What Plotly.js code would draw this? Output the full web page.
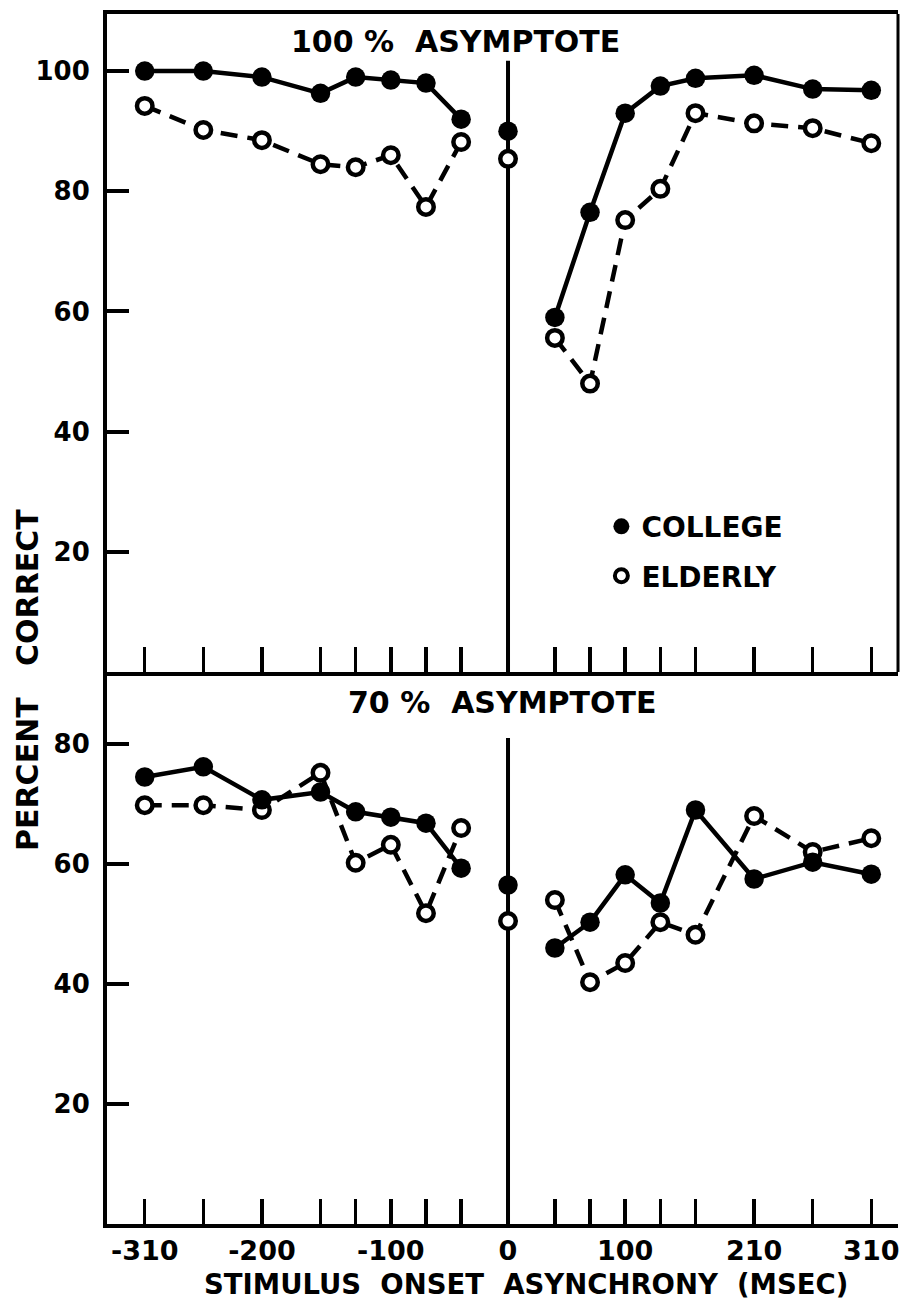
<!DOCTYPE html>
<html>
<head>
<meta charset="utf-8">
<script src="https://cdn.plot.ly/plotly-3.0.1.min.js"></script>
<style>html,body{margin:0;padding:0;background:#fff;}#chart{width:902px;height:1299px;}</style>
</head>
<body>
<div id="chart"></div>
<script>
// Stimulus onset asynchrony (msec)
const SOA = [-310, -260, -210, -160, -130, -100, -70, -40, 0, 40, 70, 100, 130, 160, 210, 260, 310];
// Tick labels shown under the bottom axis (one per SOA tick, blank = unlabelled)
const TICK_TEXT = ["-310", "", "-200", "", "", "-100", "", "", "0", "", "", "100", "", "", "210", "", "310"];
// 100% asymptote panel
const TOP_COLLEGE = [100, 100, 99, 96.3, 99, 98.5, 98, 92, 90, 59, 76.5, 93, 97.5, 98.8, 99.3, 97, 96.8];
const TOP_ELDERLY = [94.2, 90.2, 88.5, 84.5, 84, 86, 77.4, 88.2, 85.4, 55.6, 48, 75.2, 80.4, 93, 91.3, 90.5, 88];
// 70% asymptote panel
const BOT_COLLEGE = [74.5, 76.2, 70.7, 72, 68.7, 67.8, 66.8, 59.3, 56.5, 46, 50.3, 58.2, 53.5, 69, 57.5, 60.3, 58.3];
const BOT_ELDERLY = [69.8, 69.8, 69, 75.2, 60.2, 63.2, 51.8, 66, 50.5, 54, 40.3, 43.5, 50.3, 48.2, 68, 62, 64.3];
const Y_TICKS_TOP = [20, 40, 60, 80, 100];
const Y_TICKS_BOT = [20, 40, 60, 80];

// split into left segment, isolated zero point, right segment
function segmented(xs, ys) {
  const X = [], Y = [];
  for (let i = 0; i < xs.length; i++) {
    if (i > 0 && (Math.sign(xs[i]) !== Math.sign(xs[i - 1]))) { X.push(null); Y.push(null); }
    X.push(xs[i]); Y.push(ys[i]);
  }
  return {x: X, y: Y};
}

const BOLD = {family: "DejaVu Sans", weight: 700, color: "#000"};
const openMarker = {symbol: "circle", size: 15.5, color: "#fff", line: {color: "#000", width: 4.5}};
const fillMarker = {symbol: "circle", size: 19.5, color: "#000", line: {color: "#000", width: 0}};

function trace(ys, xa, ya, group) {
  const s = segmented(SOA, ys);
  const elderly = group === "elderly";
  return {
    type: "scatter", mode: "lines+markers", x: s.x, y: s.y, xaxis: xa, yaxis: ya,
    connectgaps: false, showlegend: false, hoverinfo: "skip",
    line: {color: "#000", width: 4.5, dash: elderly ? "17px,10px" : "solid"},
    marker: elderly ? openMarker : fillMarker
  };
}

const data = [
  trace(TOP_ELDERLY, "x", "y", "elderly"),
  trace(TOP_COLLEGE, "x", "y", "college"),
  trace(BOT_ELDERLY, "x2", "y2", "elderly"),
  trace(BOT_COLLEGE, "x2", "y2", "college"),
  {type: "scatter", mode: "markers", x: [null], y: [null], name: "COLLEGE", legendgroup: "a",
   marker: {symbol: "circle", size: 16, color: "#000"}},
  {type: "scatter", mode: "markers", x: [null], y: [null], name: "ELDERLY", legendgroup: "b",
   marker: {symbol: "circle", size: 13, color: "#fff", line: {color: "#000", width: 4}}}
];

const XR = [-342.2, 332.8];
const xCommon = {
  range: XR, showgrid: false, zeroline: false, showline: true, linecolor: "#000", linewidth: 4,
  ticks: "inside", ticklen: 25, tickwidth: 3.5, tickcolor: "#000",
  tickmode: "array", tickvals: SOA, ticktext: TICK_TEXT, fixedrange: true
};
const yCommon = {
  showgrid: false, zeroline: false, showline: true, linecolor: "#000", linewidth: 4,
  ticks: "inside", ticklen: 22, tickwidth: 4, tickcolor: "#000", tickmode: "array",
  tickfont: Object.assign({size: 26}, BOLD), ticklabelstandoff: 8, fixedrange: true
};

const layout = {
  width: 902, height: 1299,
  margin: {l: 107, r: 4, t: 14, b: 75},
  paper_bgcolor: "#fff", plot_bgcolor: "#fff",
  showlegend: true,
  legend: {x: 0.625, y: 0.597, xanchor: "left", yanchor: "top", font: Object.assign({size: 28}, BOLD),
           bgcolor: "rgba(0,0,0,0)", tracegroupgap: 10, itemwidth: 30},
  xaxis: Object.assign({}, xCommon, {anchor: "y", mirror: true, showticklabels: false}),
  yaxis: Object.assign({}, yCommon, {domain: [0.4562, 1], range: [0, 109.5], tickvals: Y_TICKS_TOP, anchor: "x"}),
  xaxis2: Object.assign({}, xCommon, {anchor: "y2", showticklabels: true,
           tickfont: Object.assign({size: 27}, BOLD), ticklabelstandoff: 0}),
  yaxis2: Object.assign({}, yCommon, {domain: [0, 0.4562], range: [0, 92], tickvals: Y_TICKS_BOT, anchor: "x2"}),
  shapes: [
    {type: "line", xref: "x", yref: "y", x0: 0, x1: 0, y0: 0, y1: 101.7, layer: "below", line: {color: "#000", width: 4}},
    {type: "line", xref: "x2", yref: "y2", x0: 0, x1: 0, y0: 0, y1: 81, layer: "below", line: {color: "#000", width: 4}},
    {type: "line", xref: "paper", yref: "y domain", x0: 1, x1: 1, y0: 0, y1: 1, line: {color: "#000", width: 3}}
  ],
  annotations: [
    {text: "100 %\u00a0 ASYMPTOTE", xref: "paper", yref: "paper", x: 0.44, y: 0.9769, xanchor: "center", yanchor: "middle",
     showarrow: false, font: Object.assign({size: 30}, BOLD)},
    {text: "70 %\u00a0 ASYMPTOTE", xref: "paper", yref: "paper", x: 0.4994, y: 0.4306, xanchor: "center", yanchor: "middle",
     showarrow: false, font: Object.assign({size: 30}, BOLD)},
    {text: "PERCENT\u00a0\u00a0 CORRECT", xref: "paper", yref: "paper", x: -0.0999, y: 0.4496, xanchor: "center", yanchor: "middle",
     textangle: -90, showarrow: false, font: Object.assign({size: 30}, BOLD)},
    {text: "STIMULUS\u00a0 ONSET\u00a0 ASYNCHRONY\u00a0 (MSEC)", xref: "paper", yref: "paper", x: 0.5297, y: -0.0495,
     xanchor: "center", yanchor: "middle", showarrow: false, font: Object.assign({size: 27.5}, BOLD)}
  ]
};

Plotly.newPlot("chart", data, layout, {staticPlot: true, displayModeBar: false});
</script>
</body>
</html>
